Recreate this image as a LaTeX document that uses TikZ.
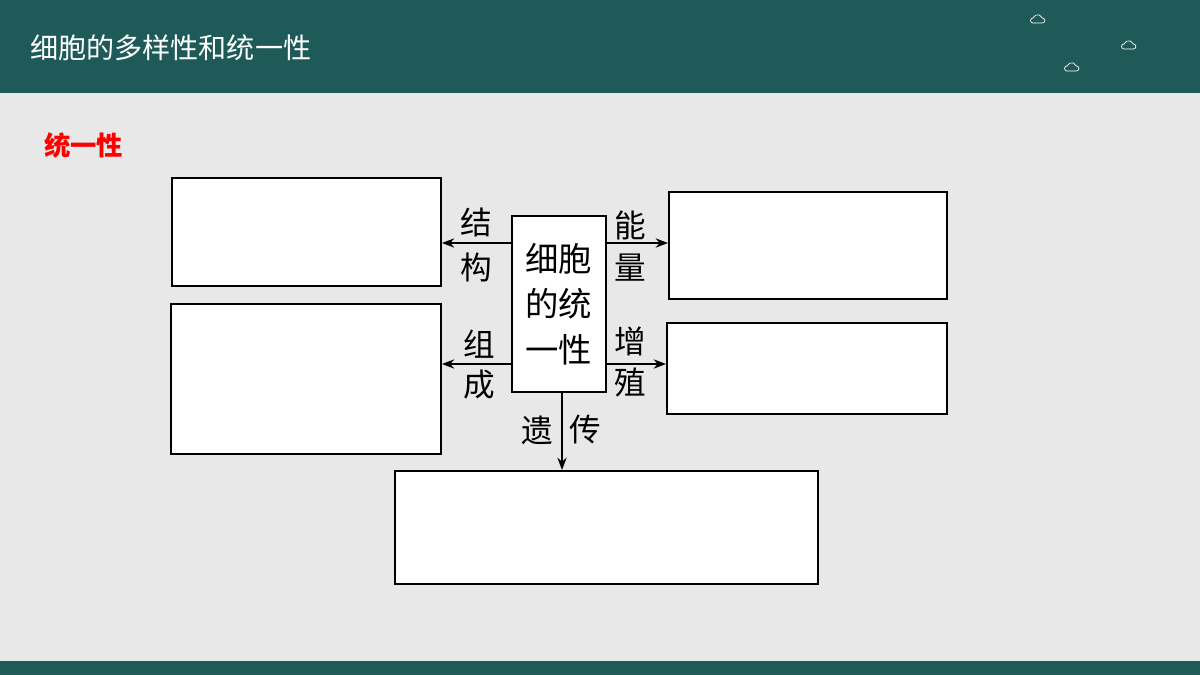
\documentclass[tikz,border=0pt]{standalone}
\usepackage{fontspec}
\newfontfamily\cjk{Noto Sans CJK SC}
\usetikzlibrary{arrows.meta}
\definecolor{band}{HTML}{1E5A58}
\definecolor{paper}{HTML}{E8E8E8}
\begin{document}
\begin{tikzpicture}[x=0.02cm, y=-0.02cm,
    box/.style={draw, line width=1.1pt, fill=white},
    link/.style={-{Stealth[length=7pt]}, line width=1.1pt},
    lbl/.style={font=\cjk\fontsize{18}{20}\selectfont, inner sep=0pt},
    cloud/.style={draw=white, thin}
]
% background
\fill[paper] (0,0) rectangle (1200,675);
\fill[band] (0,0) rectangle (1200,93);
\fill[band] (0,661) rectangle (1200,675);
\node[anchor=west, text=white, font=\cjk\fontsize{16}{18}\selectfont] (title) at (24,48) {细胞的多样性和统一性};
\foreach \cx/\cy in {1042/23, 1133/49, 1076/71}
  \draw[cloud, yscale=-1] (\cx-9,-\cy) arc (270:90:2.5) arc (160:20:5) arc (90:-90:2.5) -- cycle;
\node[anchor=west, text=red, font=\cjk\bfseries\fontsize{15}{18}\selectfont] (head) at (38,145) {统一性};

% boxes
\node[box, minimum width=269*0.02cm, minimum height=108*0.02cm, anchor=north west] (struct) at (171,177) {};
\node[box, minimum width=278*0.02cm, minimum height=107*0.02cm, anchor=north west] (energy) at (668,191) {};
\node[box, minimum width=270*0.02cm, minimum height=150*0.02cm, anchor=north west] (comp) at (170,303) {};
\node[box, minimum width=280*0.02cm, minimum height=91*0.02cm, anchor=north west] (prolif) at (666,322) {};
\node[box, minimum width=423*0.02cm, minimum height=113*0.02cm, anchor=north west] (gene) at (394,470) {};
\node[box, minimum width=94*0.02cm, minimum height=176*0.02cm, anchor=north west, align=center,
      font=\cjk\fontsize{19}{26}\selectfont] (cell) at (511,215) {细胞\\的统\\一性};
\coordinate (down) at (562,391);

% connectors
\draw[link] (cell.west |- 0,243) -- (struct.east |- 0,243);
\draw[link] (cell.east |- 0,243) -- (energy.west |- 0,243);
\draw[link] (cell.west |- 0,364) -- (comp.east |- 0,364);
\draw[link] (cell.east |- 0,364) -- (prolif.west |- 0,364);
\draw[link] (down) -- (gene.north -| down);

% labels
\node[lbl] (l1) at (476,222) {结};
\node[lbl] (l2) at (476,267) {构};
\node[lbl] (l3) at (630,225) {能};
\node[lbl] (l4) at (630,268) {量};
\node[lbl] (l5) at (479,344) {组};
\node[lbl] (l6) at (479,385) {成};
\node[lbl] (l7) at (630,341) {增};
\node[lbl] (l8) at (630,383) {殖};
\node[lbl] (l9) at (537,430) {遗};
\node[lbl] (l10) at (585,430) {传};
\end{tikzpicture}
\end{document}
